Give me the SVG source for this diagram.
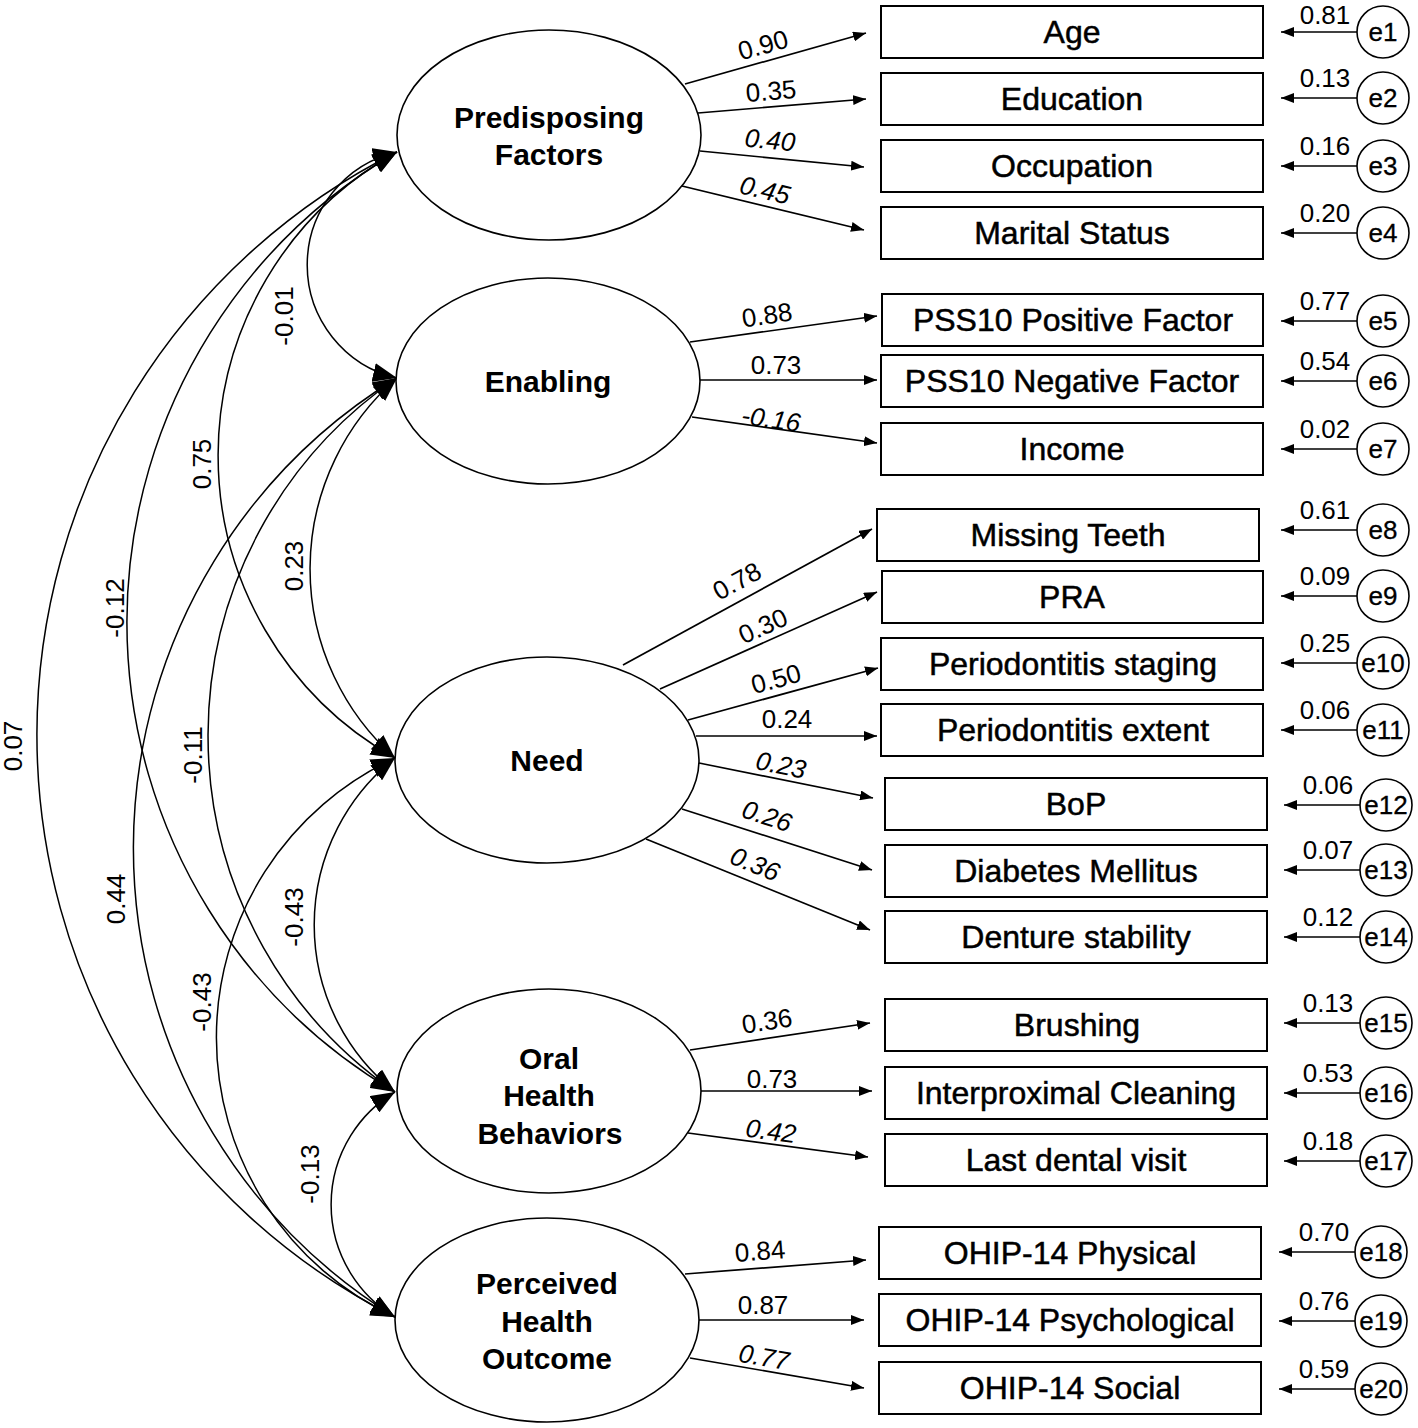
<svg xmlns="http://www.w3.org/2000/svg" width="1418" height="1428" viewBox="0 0 1418 1428">
<defs>
<marker id="big" viewBox="0 0 25 19" markerWidth="25" markerHeight="19" refX="24" refY="9.5" orient="auto-start-reverse" markerUnits="userSpaceOnUse"><path d="M0,0 L24,9.5 L0,19 z" fill="#000"/></marker>
<marker id="sm" viewBox="0 0 14 10" markerWidth="14" markerHeight="10" refX="13" refY="5" orient="auto" markerUnits="userSpaceOnUse"><path d="M0,0 L13,5 L0,10 z" fill="#000"/></marker>
</defs>
<style>
.lat{fill:#fff;stroke:#000;stroke-width:1.6}
.obs{fill:#fff;stroke:#000;stroke-width:2}
.err{fill:#fff;stroke:#000;stroke-width:1.6}
.lt{font-family:"Liberation Sans",Arial,sans-serif;font-weight:bold;font-size:30px;text-anchor:middle;fill:#000}
.ot{font-family:"Liberation Sans",Arial,sans-serif;font-size:32px;text-anchor:middle;fill:#000;stroke:#000;stroke-width:0.5}
.et{font-family:"Liberation Sans",Arial,sans-serif;font-size:26px;text-anchor:middle;fill:#000;stroke:#000;stroke-width:0.3}
.cl{font-family:"Liberation Sans",Arial,sans-serif;font-size:26px;text-anchor:middle;fill:#000}
.it{font-style:italic}
.ln{fill:none;stroke:#000;stroke-width:1.7;marker-end:url(#sm)}
.cv{fill:none;stroke:#000;stroke-width:1.5;marker-start:url(#big);marker-end:url(#big)}
</style>
<rect width="1418" height="1428" fill="#fff"/>

<g id="connectors">
<path class="cv" d="M397,152 A116,116 0 0 0 397,378"/>
<path class="cv" d="M397,152 A347,347 0 0 0 395,758"/>
<path class="cv" d="M397,152 A545,545 0 0 0 395,1092"/>
<path class="cv" d="M397,152 A652,652 0 0 0 395,1317"/>
<path class="cv" d="M397,378 A253,253 0 0 0 395,758"/>
<path class="cv" d="M397,378 A433,433 0 0 0 395,1092"/>
<path class="cv" d="M397,378 A551,551 0 0 0 395,1317"/>
<path class="cv" d="M395,758 A213,213 0 0 0 395,1092"/>
<path class="cv" d="M395,758 A308,308 0 0 0 395,1317"/>
<path class="cv" d="M395,1092 A131,131 0 0 0 395,1317"/>

<line class="ln" x1="685" y1="84" x2="866" y2="33"/>
<line class="ln" x1="698" y1="113" x2="866" y2="99"/>
<line class="ln" x1="700" y1="151" x2="864" y2="167"/>
<line class="ln" x1="682" y1="186" x2="864" y2="230"/>

<line class="ln" x1="690" y1="342" x2="877" y2="316"/>
<line class="ln" x1="700" y1="380" x2="877" y2="380"/>
<line class="ln" x1="692" y1="417" x2="877" y2="443"/>

<line class="ln" x1="623" y1="665" x2="872" y2="529"/>
<line class="ln" x1="660" y1="689" x2="877" y2="592"/>
<line class="ln" x1="688" y1="720" x2="878" y2="668"/>
<line class="ln" x1="696" y1="736" x2="877" y2="736"/>
<line class="ln" x1="699" y1="763" x2="873" y2="798"/>
<line class="ln" x1="682" y1="809" x2="872" y2="870"/>
<line class="ln" x1="646" y1="839" x2="870" y2="930"/>

<line class="ln" x1="690" y1="1050" x2="870" y2="1023"/>
<line class="ln" x1="700" y1="1091" x2="872" y2="1091"/>
<line class="ln" x1="688" y1="1133" x2="868" y2="1157"/>

<line class="ln" x1="685" y1="1274" x2="866" y2="1260"/>
<line class="ln" x1="698" y1="1320" x2="864" y2="1320"/>
<line class="ln" x1="690" y1="1358" x2="864" y2="1388"/>

<line class="ln" x1="1357" y1="32" x2="1281" y2="32"/>
<line class="ln" x1="1357" y1="98" x2="1281" y2="98"/>
<line class="ln" x1="1357" y1="166" x2="1281" y2="166"/>
<line class="ln" x1="1357" y1="233" x2="1281" y2="233"/>
<line class="ln" x1="1357" y1="321" x2="1281" y2="321"/>
<line class="ln" x1="1357" y1="381" x2="1281" y2="381"/>
<line class="ln" x1="1357" y1="449" x2="1281" y2="449"/>
<line class="ln" x1="1357" y1="530" x2="1281" y2="530"/>
<line class="ln" x1="1357" y1="596" x2="1281" y2="596"/>
<line class="ln" x1="1357" y1="663" x2="1281" y2="663"/>
<line class="ln" x1="1357" y1="730" x2="1281" y2="730"/>
<line class="ln" x1="1360" y1="805" x2="1284" y2="805"/>
<line class="ln" x1="1360" y1="870" x2="1284" y2="870"/>
<line class="ln" x1="1360" y1="937" x2="1284" y2="937"/>
<line class="ln" x1="1360" y1="1023" x2="1284" y2="1023"/>
<line class="ln" x1="1360" y1="1093" x2="1284" y2="1093"/>
<line class="ln" x1="1360" y1="1161" x2="1284" y2="1161"/>
<line class="ln" x1="1355" y1="1252" x2="1279" y2="1252"/>
<line class="ln" x1="1355" y1="1321" x2="1279" y2="1321"/>
<line class="ln" x1="1355" y1="1389" x2="1279" y2="1389"/>
</g>

<g id="labels">
<text class="cl" transform="translate(284,316) rotate(-90)" y="9">-0.01</text>
<text class="cl" transform="translate(202,464) rotate(-90)" y="9">0.75</text>
<text class="cl" transform="translate(294,566) rotate(-90)" y="9">0.23</text>
<text class="cl" transform="translate(115,608) rotate(-90)" y="9">-0.12</text>
<text class="cl" transform="translate(13,746) rotate(-90)" y="9">0.07</text>
<text class="cl" transform="translate(193,755) rotate(-90)" y="9">-0.11</text>
<text class="cl" transform="translate(116,899) rotate(-90)" y="9">0.44</text>
<text class="cl" transform="translate(294,917) rotate(-90)" y="9">-0.43</text>
<text class="cl" transform="translate(202,1002) rotate(-90)" y="9">-0.43</text>
<text class="cl" transform="translate(310,1174) rotate(-90)" y="9">-0.13</text>

<text class="cl" transform="translate(763,45) rotate(-15.8)" y="9">0.90</text>
<text class="cl" transform="translate(771,91) rotate(-4.8)" y="9">0.35</text>
<text class="cl it" transform="translate(770,140) rotate(5.6)" y="9">0.40</text>
<text class="cl it" transform="translate(765,190) rotate(13.4)" y="9">0.45</text>

<text class="cl" transform="translate(767,315) rotate(-8.2)" y="9">0.88</text>
<text class="cl" transform="translate(776,365)" y="9">0.73</text>
<text class="cl it" transform="translate(771,419) rotate(8)" y="9">-0.16</text>

<text class="cl" transform="translate(737,581) rotate(-28.6)" y="9">0.78</text>
<text class="cl" transform="translate(763,626) rotate(-24)" y="9">0.30</text>
<text class="cl" transform="translate(776,679) rotate(-15.3)" y="9">0.50</text>
<text class="cl" transform="translate(787,719)" y="9">0.24</text>
<text class="cl it" transform="translate(781,765) rotate(11.4)" y="9">0.23</text>
<text class="cl it" transform="translate(767,816) rotate(17.8)" y="9">0.26</text>
<text class="cl it" transform="translate(755,864) rotate(22)" y="9">0.36</text>

<text class="cl" transform="translate(767,1021) rotate(-8.5)" y="9">0.36</text>
<text class="cl" transform="translate(772,1079)" y="9">0.73</text>
<text class="cl it" transform="translate(771,1131) rotate(7.6)" y="9">0.42</text>

<text class="cl" transform="translate(760,1251) rotate(-4.4)" y="9">0.84</text>
<text class="cl" transform="translate(763,1305)" y="9">0.87</text>
<text class="cl it" transform="translate(764,1357) rotate(9.8)" y="9">0.77</text>

<text class="cl" x="1325" y="24">0.81</text>
<text class="cl" x="1325" y="87">0.13</text>
<text class="cl" x="1325" y="155">0.16</text>
<text class="cl" x="1325" y="222">0.20</text>
<text class="cl" x="1325" y="310">0.77</text>
<text class="cl" x="1325" y="370">0.54</text>
<text class="cl" x="1325" y="438">0.02</text>
<text class="cl" x="1325" y="519">0.61</text>
<text class="cl" x="1325" y="585">0.09</text>
<text class="cl" x="1325" y="652">0.25</text>
<text class="cl" x="1325" y="719">0.06</text>
<text class="cl" x="1328" y="794">0.06</text>
<text class="cl" x="1328" y="859">0.07</text>
<text class="cl" x="1328" y="926">0.12</text>
<text class="cl" x="1328" y="1012">0.13</text>
<text class="cl" x="1328" y="1082">0.53</text>
<text class="cl" x="1328" y="1150">0.18</text>
<text class="cl" x="1324" y="1241">0.70</text>
<text class="cl" x="1324" y="1310">0.76</text>
<text class="cl" x="1324" y="1378">0.59</text>
</g>

<g id="predisposing"><ellipse class="lat" cx="549" cy="135" rx="152" ry="105"/><text class="lt" x="549" y="128">Predisposing</text><text class="lt" x="549" y="165">Factors</text></g>
<g id="enabling"><ellipse class="lat" cx="548" cy="381" rx="152" ry="103"/><text class="lt" x="548" y="392">Enabling</text></g>
<g id="need"><ellipse class="lat" cx="547" cy="760" rx="152" ry="103"/><text class="lt" x="547" y="771">Need</text></g>
<g id="ohb"><ellipse class="lat" cx="549" cy="1091" rx="152" ry="102"/><text class="lt" x="549" y="1069">Oral</text><text class="lt" x="549" y="1106">Health</text><text class="lt" x="550" y="1144">Behaviors</text></g>
<g id="pho"><ellipse class="lat" cx="547" cy="1320" rx="152" ry="102"/><text class="lt" x="547" y="1294">Perceived</text><text class="lt" x="547" y="1332">Health</text><text class="lt" x="547" y="1369">Outcome</text></g>

<g id="age"><rect class="obs" x="881" y="6" width="382" height="52"/><text class="ot" x="1072" y="43">Age</text></g>
<g id="education"><rect class="obs" x="881" y="73" width="382" height="52"/><text class="ot" x="1072" y="110">Education</text></g>
<g id="occupation"><rect class="obs" x="881" y="140" width="382" height="52"/><text class="ot" x="1072" y="177">Occupation</text></g>
<g id="marital"><rect class="obs" x="881" y="207" width="382" height="52"/><text class="ot" x="1072" y="244">Marital Status</text></g>
<g id="pss10pos"><rect class="obs" x="882" y="294" width="381" height="52"/><text class="ot" x="1073" y="331">PSS10 Positive Factor</text></g>
<g id="pss10neg"><rect class="obs" x="881" y="355" width="382" height="52"/><text class="ot" x="1072" y="392">PSS10 Negative Factor</text></g>
<g id="income"><rect class="obs" x="881" y="423" width="382" height="52"/><text class="ot" x="1072" y="460">Income</text></g>
<g id="missing"><rect class="obs" x="877" y="509" width="382" height="52"/><text class="ot" x="1068" y="546">Missing Teeth</text></g>
<g id="pra"><rect class="obs" x="882" y="571" width="381" height="52"/><text class="ot" x="1072" y="608">PRA</text></g>
<g id="staging"><rect class="obs" x="881" y="638" width="382" height="52"/><text class="ot" x="1073" y="675">Periodontitis staging</text></g>
<g id="extent"><rect class="obs" x="881" y="704" width="382" height="52"/><text class="ot" x="1073" y="741">Periodontitis extent</text></g>
<g id="bop"><rect class="obs" x="885" y="778" width="382" height="52"/><text class="ot" x="1076" y="815">BoP</text></g>
<g id="diabetes"><rect class="obs" x="885" y="845" width="382" height="52"/><text class="ot" x="1076" y="882">Diabetes Mellitus</text></g>
<g id="denture"><rect class="obs" x="885" y="911" width="382" height="52"/><text class="ot" x="1076" y="948">Denture stability</text></g>
<g id="brushing"><rect class="obs" x="885" y="999" width="382" height="52"/><text class="ot" x="1077" y="1036">Brushing</text></g>
<g id="interprox"><rect class="obs" x="885" y="1067" width="382" height="52"/><text class="ot" x="1076" y="1104">Interproximal Cleaning</text></g>
<g id="lastvisit"><rect class="obs" x="885" y="1134" width="382" height="52"/><text class="ot" x="1076" y="1171">Last dental visit</text></g>
<g id="ohipphys"><rect class="obs" x="879" y="1227" width="382" height="52"/><text class="ot" x="1070" y="1264">OHIP-14 Physical</text></g>
<g id="ohippsy"><rect class="obs" x="879" y="1294" width="382" height="52"/><text class="ot" x="1070" y="1331">OHIP-14 Psychological</text></g>
<g id="ohipsoc"><rect class="obs" x="879" y="1362" width="382" height="52"/><text class="ot" x="1070" y="1399">OHIP-14 Social</text></g>

<g id="e1"><circle class="err" cx="1383" cy="32" r="26"/><text class="et" x="1383" y="41">e1</text></g>
<g id="e2"><circle class="err" cx="1383" cy="98" r="26"/><text class="et" x="1383" y="107">e2</text></g>
<g id="e3"><circle class="err" cx="1383" cy="166" r="26"/><text class="et" x="1383" y="175">e3</text></g>
<g id="e4"><circle class="err" cx="1383" cy="233" r="26"/><text class="et" x="1383" y="242">e4</text></g>
<g id="e5"><circle class="err" cx="1383" cy="321" r="26"/><text class="et" x="1383" y="330">e5</text></g>
<g id="e6"><circle class="err" cx="1383" cy="381" r="26"/><text class="et" x="1383" y="390">e6</text></g>
<g id="e7"><circle class="err" cx="1383" cy="449" r="26"/><text class="et" x="1383" y="458">e7</text></g>
<g id="e8"><circle class="err" cx="1383" cy="530" r="26"/><text class="et" x="1383" y="539">e8</text></g>
<g id="e9"><circle class="err" cx="1383" cy="596" r="26"/><text class="et" x="1383" y="605">e9</text></g>
<g id="e10"><circle class="err" cx="1383" cy="663" r="26"/><text class="et" x="1383" y="672">e10</text></g>
<g id="e11"><circle class="err" cx="1383" cy="730" r="26"/><text class="et" x="1383" y="739">e11</text></g>
<g id="e12"><circle class="err" cx="1386" cy="805" r="26"/><text class="et" x="1386" y="814">e12</text></g>
<g id="e13"><circle class="err" cx="1386" cy="870" r="26"/><text class="et" x="1386" y="879">e13</text></g>
<g id="e14"><circle class="err" cx="1386" cy="937" r="26"/><text class="et" x="1386" y="946">e14</text></g>
<g id="e15"><circle class="err" cx="1386" cy="1023" r="26"/><text class="et" x="1386" y="1032">e15</text></g>
<g id="e16"><circle class="err" cx="1386" cy="1093" r="26"/><text class="et" x="1386" y="1102">e16</text></g>
<g id="e17"><circle class="err" cx="1386" cy="1161" r="26"/><text class="et" x="1386" y="1170">e17</text></g>
<g id="e18"><circle class="err" cx="1381" cy="1252" r="26"/><text class="et" x="1381" y="1261">e18</text></g>
<g id="e19"><circle class="err" cx="1381" cy="1321" r="26"/><text class="et" x="1381" y="1330">e19</text></g>
<g id="e20"><circle class="err" cx="1381" cy="1389" r="26"/><text class="et" x="1381" y="1398">e20</text></g>
</svg>
